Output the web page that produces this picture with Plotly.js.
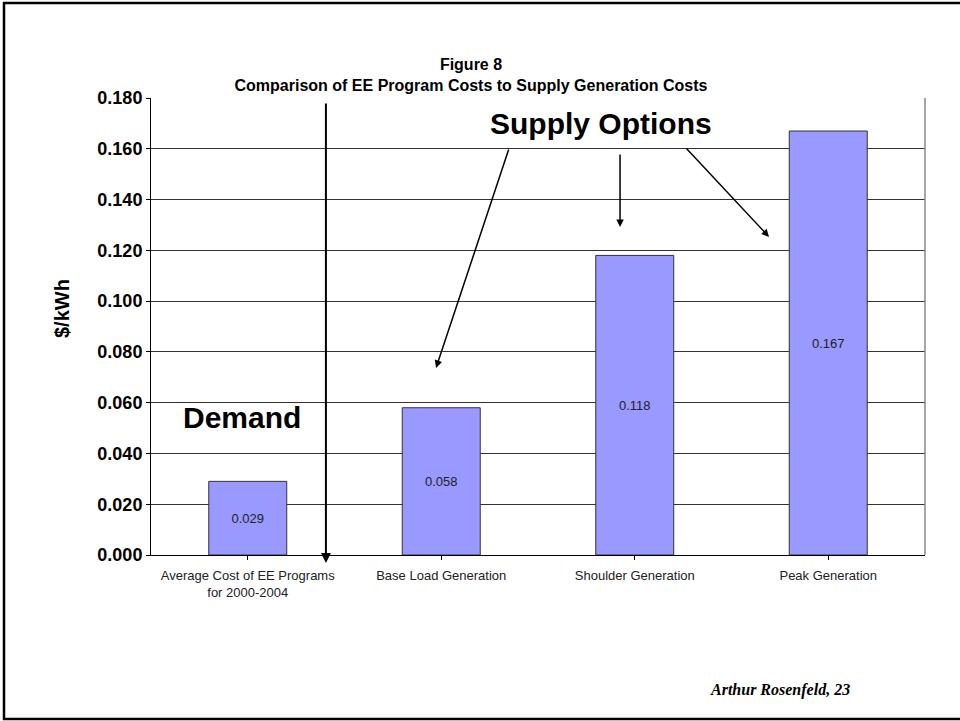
<!DOCTYPE html>
<html>
<head>
<meta charset="utf-8">
<script src="https://cdn.plot.ly/plotly-3.0.1.min.js"></script>
<style>
  html, body { margin: 0; padding: 0; background: #fff; }
  #chart { width: 960px; height: 721px; }
</style>
</head>
<body>
<div id="chart"></div>
<script>
// Figure 8 - EE program costs vs supply generation costs ($/kWh)
let categories = [
    'Average Cost of EE Programs<br>for 2000-2004',
    'Base Load Generation',
    'Shoulder Generation',
    'Peak Generation'
];
let costs = [0.029, 0.058, 0.118, 0.167];

let yTicks = [0, 0.02, 0.04, 0.06, 0.08, 0.10, 0.12, 0.14, 0.16, 0.18];

let font = 'Arial, "Liberation Sans", sans-serif';

let trace = {
    type: 'bar',
    x: [0, 1, 2, 3],
    y: costs,
    marker: { color: '#9999ff', line: { color: '#333333', width: 1 } },
    text: costs.map(v => v.toFixed(3)),
    textposition: 'inside',
    insidetextanchor: 'middle',
    textfont: { family: font, size: 13, color: '#222' },
    hoverinfo: 'none'
};

// arrows from "Supply Options" to the three supply bars (data coords)
let arrows = [
    { x: 0.973, y: 0.0737, ax: 1.351, ay: 0.1603 },
    { x: 1.924, y: 0.1292, ax: 1.924, ay: 0.1583 },
    { x: 2.694, y: 0.1253, ax: 2.260, ay: 0.1607 }
];

let annotations = arrows.map(a => ({
    x: a.x, y: a.y, xref: 'x', yref: 'y',
    ax: a.ax, ay: a.ay, axref: 'x', ayref: 'y',
    text: '', showarrow: true,
    arrowhead: 2, arrowsize: 1, arrowwidth: 1.5, arrowcolor: '#000'
}));

annotations.push(
    {
        // demand / supply divider with arrow at the bottom
        x: 0.404, y: -0.0175, xref: 'x', yref: 'paper',
        ax: 0, ay: -461, text: '', showarrow: true,
        arrowhead: 2, arrowsize: 1, arrowwidth: 2, arrowcolor: '#000'
    },
    {
        x: 1.826, y: 0.1698, xref: 'x', yref: 'y',
        text: 'Supply Options', showarrow: false,
        font: { family: font, size: 30, weight: 'bold', color: '#000' }
    },
    {
        x: -0.03, y: 0.054, xref: 'x', yref: 'y',
        text: 'Demand', showarrow: false,
        font: { family: font, size: 30, weight: 'bold', color: '#000' }
    },
    {
        x: (62 - 151) / 774, y: (555 - 309) / 457, xref: 'paper', yref: 'paper',
        xanchor: 'center', yanchor: 'middle',
        text: '$/kWh', showarrow: false, textangle: -90,
        font: { family: font, size: 20, weight: 'bold', color: '#000' }
    },
    {
        x: (708 - 151) / 774, y: (555 - 690) / 457, xref: 'paper', yref: 'paper',
        xanchor: 'left', yanchor: 'middle',
        text: '<b><i>Arthur Rosenfeld, 23</i></b>', showarrow: false,
        font: { family: '"Liberation Serif", "Times New Roman", serif', size: 16, color: '#000' }
    }
);

let layout = {
    width: 960,
    height: 721,
    margin: { l: 151, r: 35, t: 98, b: 166 },
    paper_bgcolor: '#fff',
    plot_bgcolor: '#fff',
    showlegend: false,
    bargap: 0.597,
    title: {
        text: 'Figure 8<br>Comparison of EE Program Costs to Supply Generation Costs',
        x: 471 / 960, xanchor: 'center', xref: 'container',
        y: 1 - 70 / 721, yanchor: 'middle', yref: 'container',
        font: { family: font, size: 16, weight: 'bold', color: '#000' }
    },
    xaxis: {
        tickmode: 'array',
        tickvals: [0, 1, 2, 3],
        ticktext: categories,
        range: [-0.5, 3.5],
        tickson: 'boundaries',
        ticks: 'outside',
        ticklen: 4,
        tickcolor: '#000',
        ticklabelstandoff: 4,
        showline: true,
        linecolor: '#000',
        linewidth: 1,
        showgrid: false,
        zeroline: false,
        tickfont: { family: font, size: 13, color: '#222' }
    },
    yaxis: {
        range: [0, 0.18],
        tickmode: 'array',
        tickvals: yTicks,
        tickformat: '.3f',
        ticks: 'outside',
        ticklen: 4,
        tickcolor: '#000',
        showline: true,
        linecolor: '#000',
        linewidth: 1,
        showgrid: true,
        gridcolor: '#333',
        gridwidth: 1,
        zeroline: false,
        tickfont: { family: font, size: 18, weight: 'bold', color: '#000' }
    },
    annotations: annotations,
    shapes: [
        // gray right edge of plot area
        { type: 'line', xref: 'paper', yref: 'paper', x0: 1, x1: 1, y0: 0, y1: 1,
          line: { color: '#888', width: 1.5 } },
        // slide frame: left, top, bottom
        { type: 'path', xref: 'paper', yref: 'paper',
          path: 'M 1.05,' + ((555 - 3) / 457) + ' L ' + ((4 - 151) / 774) + ',' + ((555 - 3) / 457) +
                ' L ' + ((4 - 151) / 774) + ',' + ((555 - 719) / 457) + ' L 1.05,' + ((555 - 719) / 457),
          line: { color: '#000', width: 2.5 } }
    ]
};

Plotly.newPlot('chart', [trace], layout, { displayModeBar: false, staticPlot: true });
</script>
</body>
</html>
